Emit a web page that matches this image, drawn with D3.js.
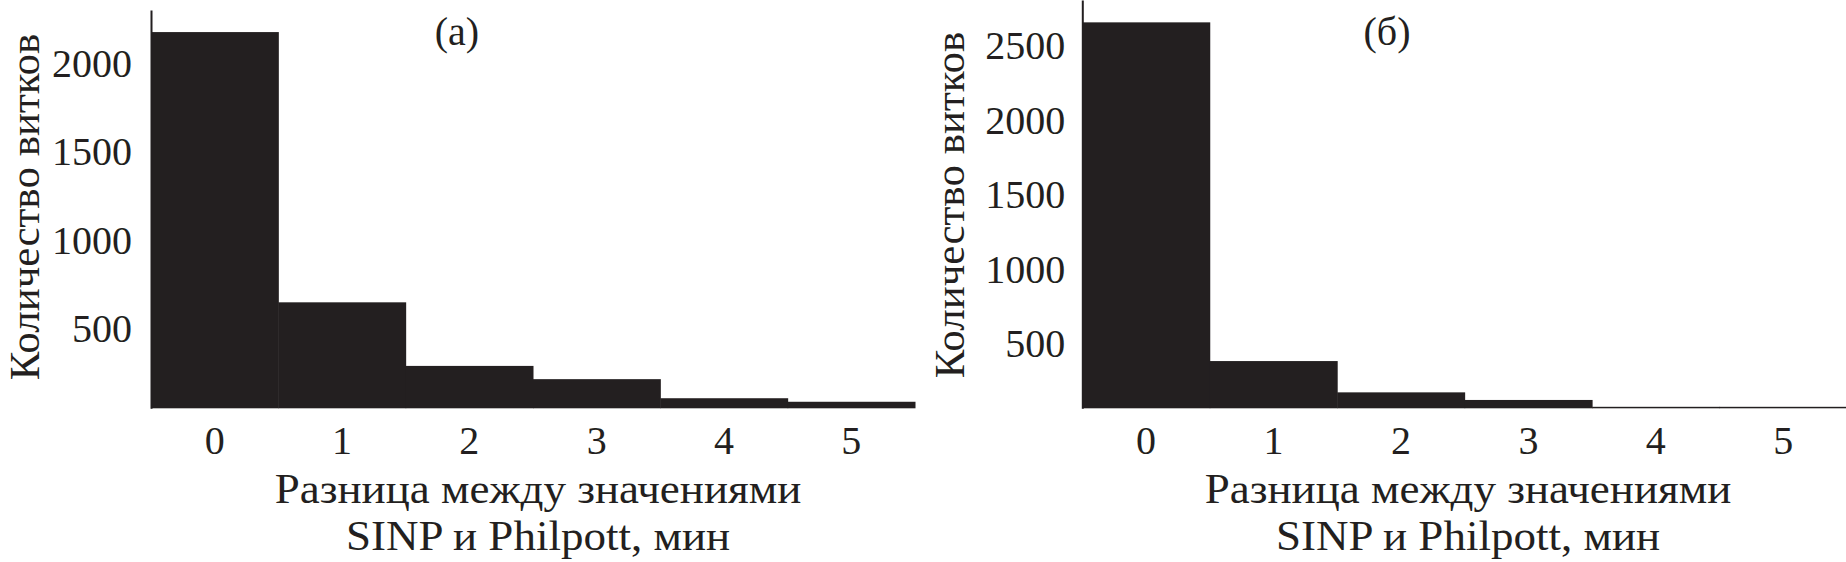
<!DOCTYPE html>
<html>
<head>
<meta charset="utf-8">
<script src="https://cdn.jsdelivr.net/npm/d3@7"></script>
<style>
  body { margin: 0; background: #fff; }
  text { font-family: "Liberation Serif", "Times New Roman", serif; fill: #231f20; }
</style>
</head>
<body>
<div class="chart"></div>
<script>
// Значения гистограмм
const categories = [0, 1, 2, 3, 4, 5];
const countsA = [2130, 600, 240, 165, 57, 37];
const countsB = [2590, 317, 107, 56, 10, 10];
const ticksA = [500, 1000, 1500, 2000];
const ticksB = [500, 1000, 1500, 2000, 2500];
const yTitle = 'Количество витков';
const xTitle = ['Разница между значениями', 'SINP и Philpott, мин'];

const ink = '#231f20';
const W = 1846, H = 562;

const svg = d3.select('.chart')
    .append('svg')
    .attr('width', W)
    .attr('height', H);

// Рисует одну панель
function panel(opts) {
    const g = svg.append('g');

    const x = d3.scaleBand()
        .domain(categories)
        .range([opts.left, opts.right])
        .padding(0);

    const y = d3.scaleLinear()
        .domain([0, opts.yMax])
        .range([408.3, opts.top]);

    // Столбцы
    g.selectAll('rect')
        .data(opts.counts)
        .join('rect')
        .attr('x', (d, i) => x(categories[i]))
        .attr('width', x.bandwidth() + 0.5)
        .attr('y', d => y(d))
        .attr('height', d => y(0) - y(d))
        .attr('fill', ink);

    // Ось Y
    const yAxis = g.append('g')
        .attr('transform', `translate(${opts.left},0)`)
        .call(d3.axisLeft(y).tickValues(opts.ticks).tickSize(0).tickPadding(opts.tickPad).tickFormat(d3.format('d')));
    yAxis.select('.domain').attr('stroke', ink).attr('stroke-width', 2);
    yAxis.selectAll('text')
        .attr('font-size', 40)
        .attr('font-family', null)
        .attr('dy', opts.labelDy);

    // Ось X
    const xAxis = g.append('g')
        .attr('transform', 'translate(0,408.3)')
        .call(d3.axisBottom(x).tickSize(0).tickPadding(0));
    xAxis.select('.domain').remove();
    xAxis.selectAll('text')
        .attr('font-size', 40)
        .attr('font-family', null)
        .attr('dy', 46);

    // Подписи осей
    g.append('text')
        .attr('transform', `translate(${opts.yTitleX},${opts.yTitleY}) rotate(-90)`)
        .attr('text-anchor', 'middle')
        .attr('font-size', 43)
        .text(yTitle);

    // подпись оси X: шрифт чуть уже по высоте, ширина как у 45px
    g.selectAll('.xtitle')
        .data(xTitle)
        .join('text')
        .attr('class', 'xtitle')
        .attr('x', opts.xTitleX)
        .attr('y', (d, i) => i ? 550 : 503)
        .attr('text-anchor', 'middle')
        .attr('font-size', 45)
        .text(d => d)
        .each(function () {
            const len = this.getComputedTextLength();
            d3.select(this)
                .attr('font-size', 42)
                .attr('textLength', len)
                .attr('lengthAdjust', 'spacingAndGlyphs');
        });

    g.append('text')
        .attr('x', opts.labelX)
        .attr('y', 45)
        .attr('text-anchor', 'middle')
        .attr('font-size', 40)
        .text(opts.label);
}

panel({
    counts: countsA, ticks: ticksA, yMax: 2255, top: 10,
    left: 151, right: 915, tickPad: 19, labelDy: 21.5,
    yTitleX: 39, yTitleY: 207, xTitleX: 538, labelX: 457, label: '(а)'
});

panel({
    counts: countsB, ticks: ticksB, yMax: 2740, top: 0,
    left: 1082.3, right: 1847, tickPad: 17, labelDy: 23,
    yTitleX: 964, yTitleY: 205, xTitleX: 1468, labelX: 1387, label: '(б)'
});
</script>
</body>
</html>
